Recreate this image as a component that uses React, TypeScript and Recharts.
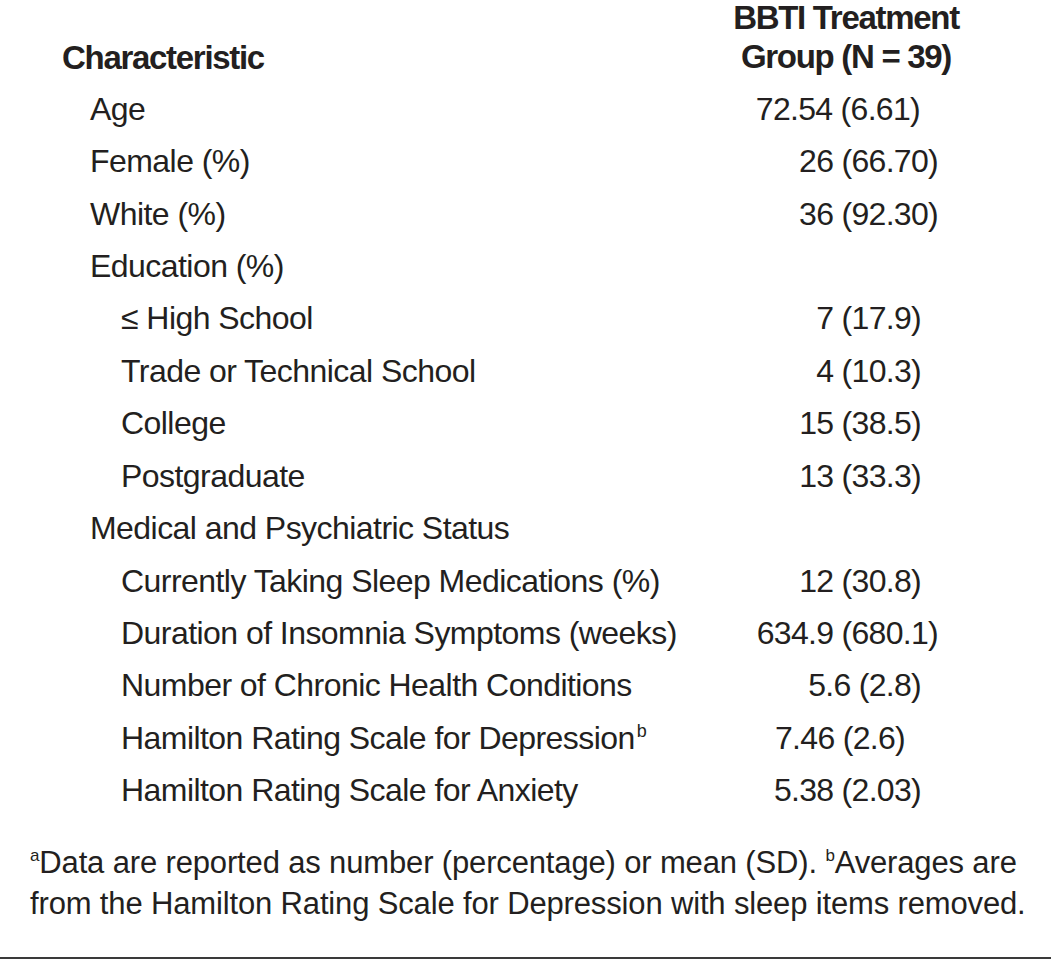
import React from "react";
import { BarChart, Bar, XAxis, YAxis, LabelList, Customized } from "recharts";

// table rows, read top to bottom
const characteristics = [
  "Age",
  "Female (%)",
  "White (%)",
  "Education (%)",
  "≤ High School",
  "Trade or Technical School",
  "College",
  "Postgraduate",
  "Medical and Psychiatric Status",
  "Currently Taking Sleep Medications (%)",
  "Duration of Insomnia Symptoms (weeks)",
  "Number of Chronic Health Conditions",
  "Hamilton Rating Scale for Depression",
  "Hamilton Rating Scale for Anxiety",
];
const groupValues = [
  "72.54 (6.61)",
  "26 (66.70)",
  "36 (92.30)",
  "",
  "7 (17.9)",
  "4 (10.3)",
  "15 (38.5)",
  "13 (33.3)",
  "",
  "12 (30.8)",
  "634.9 (680.1)",
  "5.6 (2.8)",
  "7.46 (2.6)",
  "5.38 (2.03)",
];
const indentLevels = [0, 0, 0, 0, 1, 1, 1, 1, 0, 1, 1, 1, 1, 1];
const footMarks = ["", "", "", "", "", "", "", "", "", "", "", "", "b", ""];

const headerLeft = "Characteristic";
const headerRight = ["BBTI Treatment", "Group (N = 39)"];
const footnoteLines = [
  [
    { sup: "a", text: "Data are reported as number (percentage) or mean (SD). " },
    { sup: "b", text: "Averages are" },
  ],
  [{ sup: "", text: "from the Hamilton Rating Scale for Depression with sleep items removed." }],
];

const rows = characteristics.map((label, i) => ({
  label,
  value: groupValues[i],
  indent: indentLevels[i],
  mark: footMarks[i],
  slot: 1,
}));

const INK = "#231f20";
const FONT = "'Liberation Sans', Arial, Helvetica, sans-serif";
// right edge of each value cell (the source sets them slightly unevenly)
const valueRight = [920, 938, 938, 921, 921, 921, 921, 921, 921, 921, 938, 921, 905, 921];

const LabelTick = (props: any) => {
  const { y, payload, index } = props;
  const row = rows[index] ?? rows.find((r) => r.label === payload.value);
  const x = 90 + (row?.indent ?? 0) * 31;
  return (
    <text
      x={x}
      y={y}
      dy="0.36em"
      fill={INK}
      fontFamily={FONT}
      fontSize={32}
      letterSpacing={-0.55}
      textAnchor="start"
    >
      {payload.value}
      {row?.mark ? (
        <tspan fontSize={18} dy={-12} dx={2}>
          {row.mark}
        </tspan>
      ) : null}
    </text>
  );
};

const ValueLabel = (props: any) => {
  const { y, height, value, index } = props;
  if (!value) return null;
  return (
    <text
      x={valueRight[index]}
      y={y + height / 2}
      dy="0.36em"
      fill={INK}
      fontFamily={FONT}
      fontSize={32}
      letterSpacing={-0.7}
      textAnchor="end"
    >
      {value}
    </text>
  );
};

const Decorations = () => (
  <g fontFamily={FONT} fill={INK}>
    <text x={62} y={69} fontSize={33} fontWeight="bold" letterSpacing={-1.3}>
      {headerLeft}
    </text>
    {headerRight.map((t, i) => (
      <text
        key={t}
        x={846}
        y={29 + i * 39}
        fontSize={33}
        fontWeight="bold"
        letterSpacing={-1.3}
        textAnchor="middle"
      >
        {t}
      </text>
    ))}
    {footnoteLines.map((line, i) => (
      <text key={i} x={30} y={873 + i * 41} fontSize={31} letterSpacing={-0.15}>
        {line.map((part, j) => (
          <React.Fragment key={j}>
            {part.sup ? (
              <tspan fontSize={17} dy={-12}>
                {part.sup}
              </tspan>
            ) : null}
            <tspan dy={part.sup ? 12 : 0}>{part.text}</tspan>
          </React.Fragment>
        ))}
      </text>
    ))}
    <line x1={0} x2={1051} y1={958} y2={958} stroke="#3a3a3a" strokeWidth={2} />
  </g>
);

export default function App() {
  return (
    <div style={{ position: "absolute", left: 0, top: 0, background: "#fff" }}>
      <BarChart
        width={1051}
        height={960}
        layout="vertical"
        data={rows}
        margin={{ top: 82, right: 0, bottom: 144, left: 0 }}
      >
        <XAxis type="number" hide domain={[0, 1]} />
        <YAxis
          type="category"
          dataKey="label"
          width={1}
          axisLine={false}
          tickLine={false}
          interval={0}
          tick={<LabelTick />}
        />
        <Bar dataKey="slot" fill="transparent" isAnimationActive={false}>
          <LabelList dataKey="value" content={<ValueLabel />} />
        </Bar>
        <Customized component={Decorations} />
      </BarChart>
    </div>
  );
}
